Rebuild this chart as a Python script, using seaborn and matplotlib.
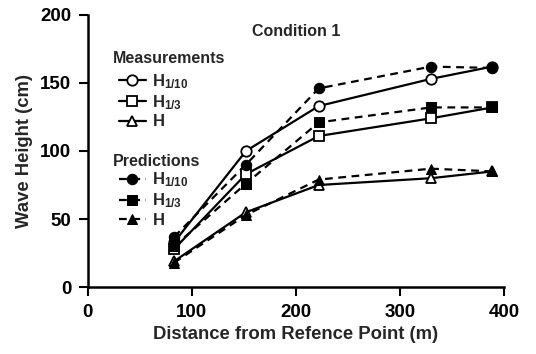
import matplotlib
matplotlib.use("Agg")
import matplotlib.pyplot as plt
import seaborn as sns
import pandas as pd

# Distance from the reference point (m)
distance = [83, 152, 222, 330, 389]

# Measured wave heights (cm)
meas_h110 = [33, 100, 133, 153, 162]
meas_h13 = [28, 83, 111, 124, 132]
meas_h = [19, 55, 75, 80, 85]

# Predicted wave heights (cm)
pred_h110 = [37, 90, 146, 162, 161]
pred_h13 = [30, 76, 121, 132, 132]
pred_h = [18, 53, 79, 87, 85]

labels = [r"H$_{\mathbf{1/10}}$", r"H$_{\mathbf{1/3}}$", "H"]
x_ticks = [0, 100, 200, 300, 400]
y_ticks = [0, 50, 100, 150, 200]

sns.set_theme(style="ticks")
plt.rcParams["font.family"] = ["Liberation Sans", "DejaVu Sans"]
plt.rcParams["font.weight"] = "bold"
plt.rcParams["mathtext.fontset"] = "custom"
plt.rcParams["mathtext.rm"] = "Liberation Sans:bold"
plt.rcParams["mathtext.it"] = "Liberation Sans:italic:bold"
plt.rcParams["mathtext.bf"] = "Liberation Sans:bold"

fig = plt.figure(figsize=(5.36, 3.54), dpi=100)
ax = fig.add_axes([0.164, 0.189, 0.776, 0.769])

markers = ["o", "s", "^"]
meas_series = [meas_h110, meas_h13, meas_h]
pred_series = [pred_h110, pred_h13, pred_h]

meas_handles = []
pred_handles = []
for vals, mk in zip(meas_series, markers):
    df = pd.DataFrame({"x": distance, "y": vals})
    sns.lineplot(data=df, x="x", y="y", ax=ax, color="black", linewidth=1.6,
                 marker=mk, markersize=7.5, markerfacecolor="white",
                 markeredgecolor="black", markeredgewidth=1.3, sort=False,
                 estimator=None, zorder=3)
    meas_handles.append(ax.lines[-1])
for vals, mk in zip(pred_series, markers):
    df = pd.DataFrame({"x": distance, "y": vals})
    sns.lineplot(data=df, x="x", y="y", ax=ax, color="black", linewidth=1.6,
                 marker=mk, markersize=7.5, markerfacecolor="black",
                 markeredgecolor="black", dashes=(3.5, 2.5), sort=False,
                 estimator=None, zorder=4)
    pred_handles.append(ax.lines[-1])

ax.set_xlim(0, 400)
ax.set_ylim(0, 200)
ax.set_xticks(x_ticks)
ax.set_yticks(y_ticks)
ax.tick_params(axis="both", labelsize=13.5, length=6.5, width=1.5,
               direction="out", colors="black")
ax.tick_params(axis="x", pad=6)
ax.tick_params(axis="y", pad=5.5)
for lab in ax.get_xticklabels() + ax.get_yticklabels():
    lab.set_fontweight("bold")
for s in ["left", "bottom"]:
    ax.spines[s].set_linewidth(1.8)
    ax.spines[s].set_color("black")
sns.despine(ax=ax)

ax.set_xlabel("Distance from Refence Point (m)", fontsize=13.3,
              fontweight="bold", labelpad=3)
ax.set_ylabel("Wave Height (cm)", fontsize=13.3, fontweight="bold",
              labelpad=5)

ax.text(0.5, 0.94, "Condition 1", transform=ax.transAxes, ha="center",
        va="center", fontsize=11.5, fontweight="bold")

# Legend group headings
ax.text(0.06, 0.838, "Measurements", transform=ax.transAxes, ha="left",
        va="center", fontsize=11.5, fontweight="bold")
ax.text(0.06, 0.462, "Predictions", transform=ax.transAxes, ha="left",
        va="center", fontsize=11.5, fontweight="bold")

leg_kw = dict(loc="upper left", frameon=False, handlelength=1.6,
              handletextpad=0.4, labelspacing=0.15, borderaxespad=0,
              borderpad=0, prop={"weight": "bold", "size": 12})
leg1 = ax.legend(meas_handles, labels, bbox_to_anchor=(0.075, 0.79), **leg_kw)
ax.add_artist(leg1)
leg2 = ax.legend(pred_handles, labels, bbox_to_anchor=(0.075, 0.428), **leg_kw)

fig.savefig("out.png", dpi=100)
